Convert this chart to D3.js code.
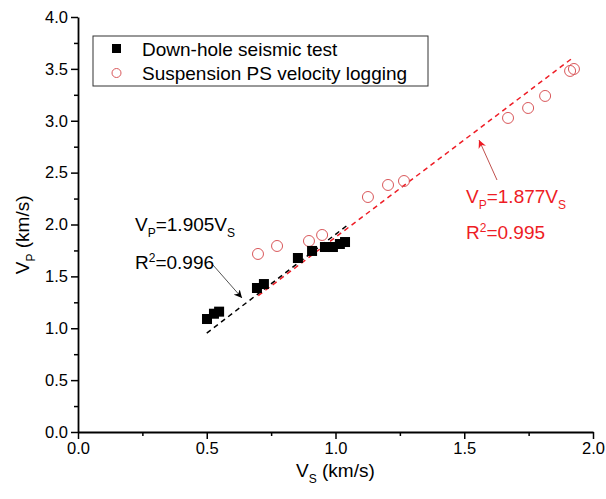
<!DOCTYPE html>
<html>
<head>
<meta charset="UTF-8">
<script src="https://cdn.jsdelivr.net/npm/d3@7"></script>
<style>
  body { margin: 0; background: #fff; }
  svg text { font-family: "Liberation Sans", Arial, sans-serif; }
</style>
</head>
<body>
<div id="chart"></div>
<script>
// Down-hole seismic test
const dhVs = [0.501, 0.528, 0.548, 0.695, 0.722, 0.854, 0.909, 0.959, 0.990, 1.017, 1.037];
const dhVp = [1.089, 1.140, 1.160, 1.388, 1.426, 1.677, 1.745, 1.783, 1.783, 1.812, 1.831];
// Suspension PS velocity logging
const psVs = [0.699, 0.773, 0.897, 0.948, 1.126, 1.204, 1.266, 1.670, 1.748, 1.814, 1.911, 1.926];
const psVp = [1.716, 1.793, 1.841, 1.899, 2.265, 2.381, 2.419, 3.027, 3.123, 3.239, 3.480, 3.499];
// fits
const dhSlope = 1.905, dhRange = [0.5, 1.05];
const psSlope = 1.877, psRange = [0.7, 1.915];
const xTicks = [0, 0.5, 1.0, 1.5, 2.0];
const yTicks = [0, 0.5, 1.0, 1.5, 2.0, 2.5, 3.0, 3.5, 4.0];
const legendNames = ["Down-hole seismic test", "Suspension PS velocity logging"];

const width = 606, height = 499;
const margin = {top: 17, right: 13, bottom: 67, left: 78};

const svg = d3.select("#chart").append("svg")
  .attr("width", width).attr("height", height);

const x = d3.scaleLinear().domain([0, 2]).range([margin.left, width - margin.right]);
const y = d3.scaleLinear().domain([0, 4]).range([height - margin.bottom, margin.top]);

const red = "#ee1c25";
const circleRed = "#d9575a";

// minor ticks
svg.append("g")
  .attr("transform", `translate(0,${y(0)})`)
  .call(d3.axisBottom(x).tickValues(d3.range(0.25, 2, 0.5)).tickSize(4).tickFormat(""))
  .call(g => g.select(".domain").remove())
  .call(g => g.selectAll("line").attr("stroke-width", 1.5));
svg.append("g")
  .attr("transform", `translate(${x(0)},0)`)
  .call(d3.axisLeft(y).tickValues(d3.range(0.25, 4, 0.5)).tickSize(4).tickFormat(""))
  .call(g => g.select(".domain").remove())
  .call(g => g.selectAll("line").attr("stroke-width", 1.5));

// main axes
const xAxis = svg.append("g")
  .attr("transform", `translate(0,${y(0)})`)
  .call(d3.axisBottom(x).tickValues(xTicks).tickSize(7).tickSizeOuter(0).tickFormat(d3.format(".1f")));
const yAxis = svg.append("g")
  .attr("transform", `translate(${x(0)},0)`)
  .call(d3.axisLeft(y).tickValues(yTicks).tickSize(7).tickSizeOuter(0).tickFormat(d3.format(".1f")));
[xAxis, yAxis].forEach(a => {
  a.select(".domain").attr("stroke-width", 1.8);
  a.selectAll(".tick line").attr("stroke-width", 1.5);
  a.selectAll(".tick text").style("font-size", "16.5px").attr("fill", "#000")
    .style("font-family", "Liberation Sans, Arial, sans-serif");
});
xAxis.selectAll(".tick text").attr("dy", "0.9em").attr("y", 7);
yAxis.selectAll(".tick text").attr("x", -10);

// axis titles
function subText(sel, parts) {
  parts.forEach(p => {
    sel.append("tspan").text(p[0])
      .attr("dy", p[1])
      .style("font-size", p[2]);
  });
  return sel;
}
subText(svg.append("text").attr("x", 296).attr("y", 477).attr("text-anchor", "start"),
  [["V", 0, "19px"], ["S", 6, "12px"], [" (km/s)", -6, "19px"]]);
subText(svg.append("text").attr("transform", `translate(29,${y(1.9)}) rotate(-90)`).attr("text-anchor", "middle"),
  [["V", 0, "19px"], ["P", 6, "12px"], [" (km/s)", -6, "19px"]]);

// fit lines
svg.append("line")
  .attr("x1", x(psRange[0])).attr("y1", y(psSlope * psRange[0]))
  .attr("x2", x(psRange[1])).attr("y2", y(psSlope * psRange[1]))
  .attr("stroke", red).attr("stroke-width", 1.5).attr("stroke-dasharray", "5,4");
svg.append("line")
  .attr("x1", x(dhRange[0])).attr("y1", y(dhSlope * dhRange[0]))
  .attr("x2", x(dhRange[1])).attr("y2", y(dhSlope * dhRange[1]))
  .attr("stroke", "#000").attr("stroke-width", 1.5).attr("stroke-dasharray", "5,4");

// points
svg.append("g").selectAll("circle")
  .data(d3.zip(psVs, psVp)).enter().append("circle")
  .attr("cx", d => x(d[0])).attr("cy", d => y(d[1])).attr("r", 5.5)
  .attr("fill", "none").attr("stroke", circleRed).attr("stroke-width", 1);
svg.append("g").selectAll("rect")
  .data(d3.zip(dhVs, dhVp)).enter().append("rect")
  .attr("x", d => x(d[0]) - 5).attr("y", d => y(d[1]) - 5)
  .attr("width", 10).attr("height", 10).attr("fill", "#000");

// arrows
const defs = svg.append("defs");
[["arrBlack", "#000"], ["arrRed", red]].forEach(([id, c]) => {
  defs.append("marker").attr("id", id).attr("viewBox", "0 0 10 10")
    .attr("refX", 10).attr("refY", 5).attr("markerWidth", 8).attr("markerHeight", 8)
    .attr("markerUnits", "userSpaceOnUse").attr("orient", "auto")
    .append("path").attr("d", "M0,0 L10,5 L0,10 L3,5 Z").attr("fill", c);
});
svg.append("line").attr("x1", 213).attr("y1", 265).attr("x2", 242).attr("y2", 298)
  .attr("stroke", "#555").attr("stroke-width", 1).attr("marker-end", "url(#arrBlack)");
svg.append("line").attr("x1", 497).attr("y1", 180).attr("x2", 479).attr("y2", 140)
  .attr("stroke", "#c0504d").attr("stroke-width", 1).attr("marker-end", "url(#arrRed)");

// annotations
subText(svg.append("text").attr("x", 135).attr("y", 231),
  [["V", 0, "19px"], ["P", 6, "12px"], ["=1.905V", -6, "19px"], ["S", 6, "12px"]]);
svg.append("text").attr("x", 135).attr("y", 269)
  .call(t => subText(t, [["R", 0, "19px"], ["2", -7, "12px"], ["=0.996", 7, "19px"]]));
subText(svg.append("text").attr("x", 466).attr("y", 203).attr("fill", red),
  [["V", 0, "19px"], ["P", 6, "12px"], ["=1.877V", -6, "19px"], ["S", 6, "12px"]]);
svg.append("text").attr("x", 466).attr("y", 239).attr("fill", red)
  .call(t => subText(t, [["R", 0, "19px"], ["2", -7, "12px"], ["=0.995", 7, "19px"]]));

// legend
const lg = svg.append("g");
lg.append("rect").attr("x", 93).attr("y", 36).attr("width", 335).attr("height", 50)
  .attr("fill", "#fff").attr("stroke", "#333").attr("stroke-width", 1);
lg.append("rect").attr("x", 112).attr("y", 44).attr("width", 9).attr("height", 9).attr("fill", "#000");
lg.append("circle").attr("cx", 116.5).attr("cy", 73).attr("r", 4.5)
  .attr("fill", "none").attr("stroke", circleRed).attr("stroke-width", 1);
legendNames.forEach((n, i) => {
  lg.append("text").attr("x", 142).attr("y", 49 + i * 24).attr("dy", "0.35em")
    .style("font-size", "19px").text(n);
});
</script>
</body>
</html>
